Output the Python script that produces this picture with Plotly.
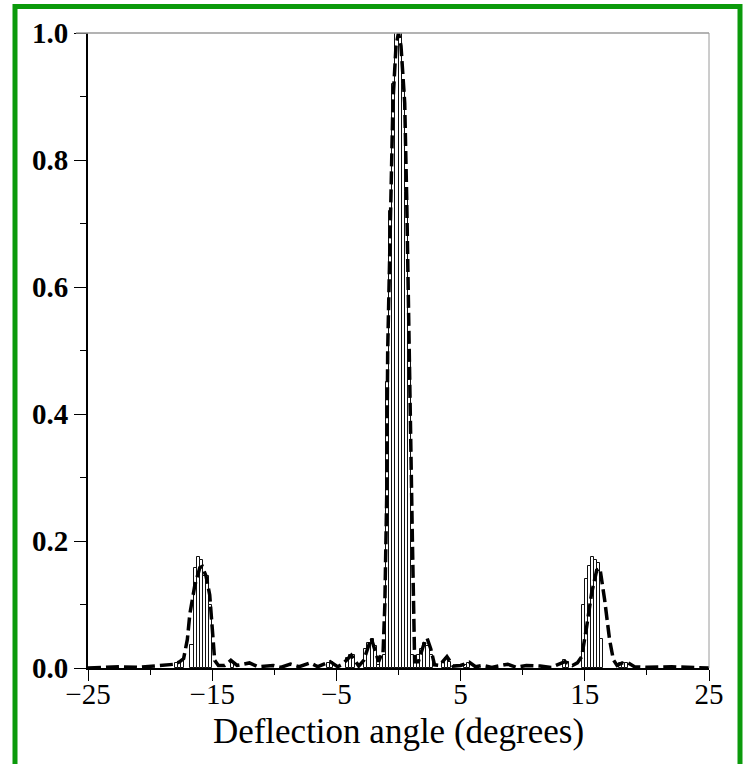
import plotly.graph_objects as go

# Histogram (bin centres in degrees, normalised counts), bin width 0.25 deg
bin_centers = [-17.875, -17.625, -17.375,
               -16.625, -16.375, -16.125, -15.875, -15.625, -15.375, -15.125,
               -13.375,
               -5.625, -5.375,
               -4.125, -3.875, -3.625,
               -2.625, -2.375, -2.125, -1.875,
               -1.625, -1.375, -1.125,
               -0.875, -0.625, -0.375, -0.125, 0.125, 0.375, 0.625, 0.875,
               1.125, 1.375, 1.625, 1.875, 2.125, 2.375, 2.625,
               3.625, 3.875, 4.125,
               5.375, 5.625,
               13.375, 13.625,
               14.875, 15.125, 15.375, 15.625, 15.875, 16.125, 16.375,
               17.875, 18.125, 18.375]
bin_heights = [0.008, 0.008, 0.012,
               0.036, 0.157, 0.175, 0.17, 0.145, 0.145, 0.10,
               0.01,
               0.008, 0.01,
               0.015, 0.02, 0.02,
               0.03, 0.04, 0.045, 0.035,
               0.005, 0.015, 0.02,
               0.45, 0.72, 0.92, 1.0, 1.0, 0.92, 0.75, 0.5,
               0.02, 0.008, 0.02, 0.03, 0.04, 0.035, 0.02,
               0.01, 0.015, 0.01,
               0.004, 0.008,
               0.012, 0.01,
               0.10, 0.14, 0.16, 0.175, 0.17, 0.165, 0.045,
               0.008, 0.008, 0.008]
bin_width = 0.25

# Dashed theoretical curve
curve_x = [-25, -22.5, -21, -19.5, -18.5, -18, -17.6, -17.3, -17.0, -16.8, -16.4,
           -16.0, -15.8, -15.5, -15.2, -15.0, -14.8, -14.5, -14.0, -13.5, -13.0,
           -12.0, -11.3, -10.1, -9.5, -8.7, -8.0, -7.1, -6.5, -5.5, -4.9, -4.5,
           -3.8, -3.2, -2.8, -2.2, -1.9, -1.6, -1.4, -1.25, -1.1, -1.0, -0.95,
           -0.87, -0.6, -0.45, -0.2, 0.0, 0.2, 0.5, 0.66, 0.9, 1.06, 1.12, 1.2,
           1.3, 1.6, 2.0, 2.3, 2.6, 2.9, 3.3, 3.9, 4.4, 5.0, 5.7, 6.2, 6.8, 7.5,
           8.8, 9.5, 10.3, 11.4, 12.3, 13.4, 14.0, 14.4, 14.75, 15.15, 15.55,
           15.96, 16.22, 16.6, 17.0, 17.3, 17.6, 18.0, 18.5, 19.0, 20.0, 22.0, 25.0]
curve_y = [0.0, 0.002, 0.001, 0.003, 0.004, 0.006, 0.01, 0.015, 0.045, 0.085, 0.13,
           0.158, 0.16, 0.145, 0.115, 0.06, 0.012, 0.004, 0.004, 0.012, 0.004,
           0.008, 0.002, 0.004, 0.001, 0.006, 0.002, 0.008, 0.002, 0.01, 0.002, 0.006,
           0.02, 0.003, 0.012, 0.047, 0.03, 0.01, 0.02, 0.02, 0.1, 0.21, 0.27,
           0.5, 0.74, 0.89, 0.98, 1.0, 0.98, 0.89, 0.74, 0.5, 0.27, 0.2, 0.1,
           0.01, 0.01, 0.035, 0.047, 0.03, 0.005, 0.004, 0.018, 0.003, 0.004, 0.009, 0.002, 0.004, 0.001,
           0.006, 0.001, 0.004, 0.003, 0.001, 0.01, 0.004, 0.008, 0.018, 0.065, 0.118,
           0.154, 0.157, 0.107, 0.044, 0.013, 0.004, 0.008, 0.008, 0.002, 0.001, 0.002, 0.0]

x_major = [-25, -15, -5, 5, 15, 25]
x_minor = [-20, -10, 0, 10, 20]
y_major = [0.0, 0.2, 0.4, 0.6, 0.8, 1.0]
y_labels = ["0.0", "0.2", "0.4", "0.6", "0.8", "1.0"]
y_minor = [0.1, 0.3, 0.5, 0.7, 0.9]

FONT = "Liberation Serif, Times New Roman, serif"

fig = go.Figure()
fig.add_trace(go.Bar(
    x=bin_centers, y=bin_heights, width=bin_width,
    marker=dict(color="white", line=dict(color="#111111", width=1)),
    showlegend=False,
))
fig.add_trace(go.Scatter(
    x=curve_x, y=curve_y, mode="lines",
    line=dict(color="black", width=3.5, dash="13px,5px"),
    showlegend=False,
))

L, R, T, B = 88, 39, 33, 96
W, H = 748, 764
pw, ph = W - L - R, H - T - B


def px(x):
    return (x - L) / pw


def py(y):
    return (H - B - y) / ph


fig.update_layout(
    width=W, height=H,
    margin=dict(l=L, r=R, t=T, b=B),
    paper_bgcolor="white", plot_bgcolor="white",
    font=dict(family=FONT, color="black"),
    xaxis=dict(
        range=[-25, 25], tickmode="array", tickvals=x_major,
        ticks="outside", ticklen=11, tickwidth=1.3, tickcolor="black",
        showline=True, linecolor="black", linewidth=2,
        showgrid=False, zeroline=False,
        tickfont=dict(family=FONT, size=29),
        ticklabelstandoff=-12,
        minor=dict(tickmode="array", tickvals=x_minor, ticks="outside",
                   ticklen=5, tickwidth=1.3, tickcolor="black"),
        title=dict(text="Deflection angle (degrees)",
                   font=dict(family=FONT, size=35), standoff=10),
    ),
    yaxis=dict(
        range=[0, 1.0], tickmode="array", tickvals=y_major, ticktext=y_labels,
        ticks="outside", ticklen=12, tickwidth=1.3, tickcolor="black",
        showline=True, linecolor="black", linewidth=2,
        showgrid=False, zeroline=False,
        tickfont=dict(family=FONT, size=29, weight="bold"),
        minor=dict(tickmode="array", tickvals=y_minor,
                   ticks="outside", ticklen=6, tickwidth=1.3, tickcolor="black"),
    ),
    bargap=0,
    shapes=[
        # top frame line
        dict(type="line", xref="paper", yref="paper",
             x0=px(76), x1=1, y0=1, y1=1,
             line=dict(color="#9a9a9a", width=1.5)),
        # right frame line
        dict(type="line", xref="paper", yref="paper",
             x0=1, x1=1, y0=0, y1=1,
             line=dict(color="#9a9a9a", width=1)),
        # green outer border
        dict(type="rect", xref="paper", yref="paper",
             x0=px(15), x1=px(740), y0=py(790), y1=py(6.5),
             line=dict(color="#0b9a0b", width=5), fillcolor="rgba(0,0,0,0)"),
    ],
)

fig.write_html("out.html")
